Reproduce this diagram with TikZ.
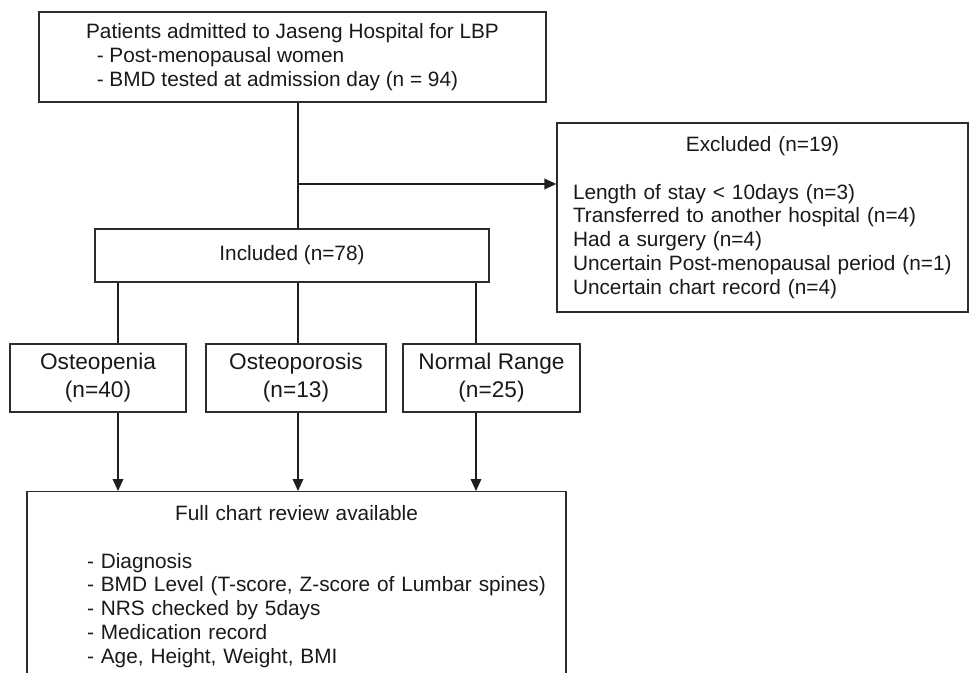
\documentclass[tikz,border=0pt]{standalone}
\usepackage{fontspec}
\setmainfont{Liberation Sans}
\usetikzlibrary{arrows.meta}

\tikzset{every picture/.style={line width=0.75pt}}
\tikzset{
  flowbox/.style={rectangle, draw={rgb, 255:red, 45; green, 45; blue, 45}, line width=1pt, inner sep=0pt, text={rgb, 255:red, 25; green, 25; blue, 25}, font=\fontsize{15.6}{17.8}\selectfont},
  groupbox/.style={flowbox, align=center, minimum height=51pt, font=\fontsize{17}{21}\selectfont},
  flowline/.style={draw={rgb, 255:red, 30; green, 30; blue, 30}, line width=1pt},
  flowarrow/.style={flowline, -{Triangle[length=9pt,width=8pt]}}
}

\begin{document}
\begin{tikzpicture}[x=0.75pt,y=0.75pt,yscale=-1,xscale=1]
\useasboundingbox (0,0) rectangle (969,673); %set diagram to 969 x 673
\clip (0,0) rectangle (969,673);

%Shape: Rectangle [id:patients]
\node [flowbox, align=left, minimum width=380.25pt, minimum height=67.5pt] (patients) at (292.5,57) {Patients admitted to Jaseng Hospital for LBP\\\hspace*{8pt}- Post-menopausal women\\\hspace*{8pt}- BMD tested at admission day (n = 94)};
%Shape: Rectangle [id:excluded]
\node [flowbox, align=left, text width=284.25pt, minimum width=308.25pt, minimum height=141.75pt] (excluded) at (762.5,217.5) {\makebox[\linewidth]{Excluded (n=19)}\\[17.8pt]Length of stay < 10days (n=3)\\Transferred to another hospital (n=4)\\Had a surgery (n=4)\\Uncertain Post-menopausal period (n=1)\\Uncertain chart record (n=4)};
%Shape: Rectangle [id:included]
\node [flowbox, minimum width=295.5pt, minimum height=39.75pt] (included) at (292,255.5) {Included (n=78)};

%Shape: Rectangle [id:osteopenia]
\node [groupbox, minimum width=132pt] (osteopenia) at (98,378) {Osteopenia\\(n=40)};
%Shape: Rectangle [id:osteoporosis]
\node [groupbox, minimum width=135pt] (osteoporosis) at (296,378) {Osteoporosis\\(n=13)};
%Shape: Rectangle [id:normal]
\node [groupbox, minimum width=132.75pt] (normal) at (491.5,378) {Normal Range\\(n=25)};

%Shape: Rectangle [id:review] (runs past the lower edge)
\node [flowbox, anchor=north, align=left, text width=380.25pt, minimum width=404.25pt, inner ysep=10.5pt, text depth=150pt] (review) at (296.5,491) {\makebox[\linewidth]{Full chart review available}\\[17.8pt]\hspace*{33pt}- Diagnosis\\\hspace*{33pt}- BMD Level (T-score, Z-score of Lumbar spines)\\\hspace*{33pt}- NRS checked by 5days\\\hspace*{33pt}- Medication record\\\hspace*{33pt}- Age, Height, Weight, BMI};

% Lanes for the connectors
\coordinate (trunk) at (298,184);
\coordinate (lanea) at (118,0);
\coordinate (laneb) at (298,0);
\coordinate (lanec) at (476,0);

%Straight Lines [id:trunk]
\draw [flowline] (trunk |- patients.south) -- (trunk |- included.north);
%Straight Lines [id:toexcluded]
\draw [flowarrow] (trunk) -- (trunk -| excluded.west);

%Straight Lines [id:split]
\draw [flowline] (lanea |- included.south) -- (lanea |- osteopenia.north);
\draw [flowline] (laneb |- included.south) -- (laneb |- osteoporosis.north);
\draw [flowline] (lanec |- included.south) -- (lanec |- normal.north);

%Straight Lines [id:merge]
\draw [flowarrow] (lanea |- osteopenia.south) -- (lanea |- review.north);
\draw [flowarrow] (laneb |- osteoporosis.south) -- (laneb |- review.north);
\draw [flowarrow] (lanec |- normal.south) -- (lanec |- review.north);

\end{tikzpicture}
\end{document}
